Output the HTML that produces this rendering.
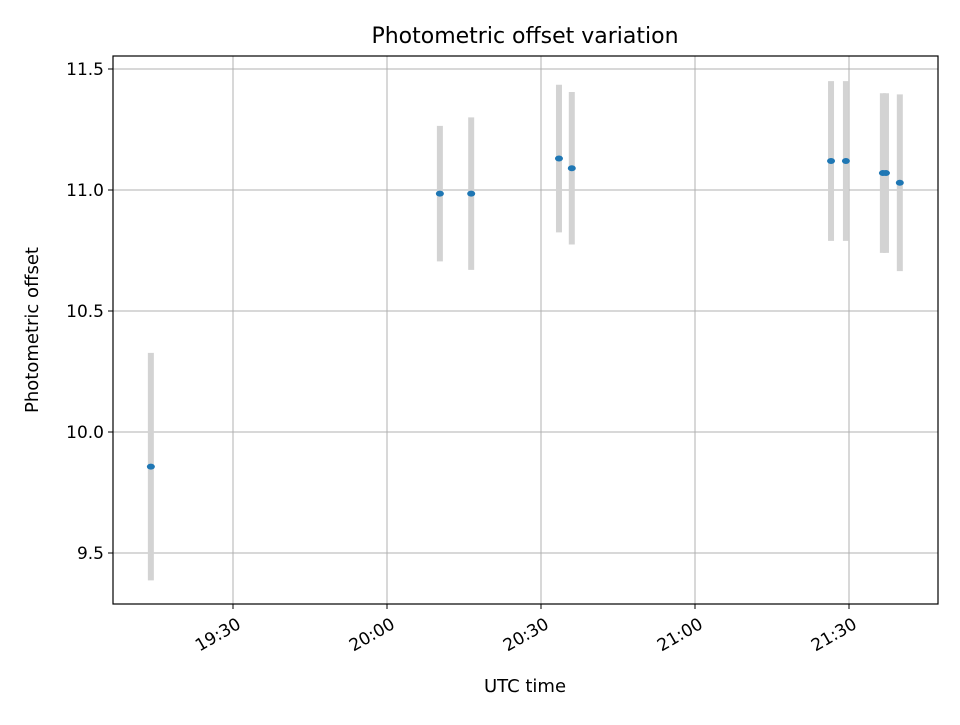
<!DOCTYPE html>
<html><head><meta charset="utf-8"><style>
body{margin:0;background:#fff;font-family:"Liberation Sans","DejaVu Sans",sans-serif;}
svg text{font-family:"DejaVu Sans","Liberation Sans",sans-serif;}
</style></head><body>
<svg id="chart" width="960" height="720" xmlns="http://www.w3.org/2000/svg">
<rect width="960" height="720" fill="#fff"/>
<g id="grid"></g>
<g id="bars"></g>
<g id="pts"></g>
<rect x="113" y="56" width="825" height="548" fill="none" stroke="#000" stroke-width="1.2"/>
<g id="ticks"></g>
<text x="525" y="43" font-size="22" text-anchor="middle">Photometric offset variation</text>
<text x="525" y="692" font-size="18" text-anchor="middle">UTC time</text>
<text transform="translate(38,330) rotate(-90)" font-size="18" text-anchor="middle">Photometric offset</text>
</svg>
<script>
const times = [19*60+14, 20*60+10.3, 20*60+16.4, 20*60+33.5, 20*60+36, 21*60+26.5, 21*60+29.4, 21*60+36.6, 21*60+37.2, 21*60+39.9];
const offsets = [9.857, 10.985, 10.985, 11.13, 11.09, 11.12, 11.12, 11.07, 11.07, 11.03];
const errors = [0.47, 0.28, 0.315, 0.305, 0.315, 0.33, 0.33, 0.33, 0.33, 0.365];
const yTicks = [9.5, 10.0, 10.5, 11.0, 11.5];
const xTickMinutes = [19*60+30, 20*60, 20*60+30, 21*60, 21*60+30];
const xTickLabels = ["19:30","20:00","20:30","21:00","21:30"];
const NS="http://www.w3.org/2000/svg";
function X(m){return 233+(m-(19*60+30))*154/30;}
function Y(v){return 432-(v-10)*242;}
function mk(tag,attrs,parent){const e=document.createElementNS(NS,tag);for(const k in attrs)e.setAttribute(k,attrs[k]);document.getElementById(parent).appendChild(e);return e;}
yTicks.forEach((t)=>{const y=Y(t);
 let g=mk('line',{x1:113,x2:938,y1:y,y2:y,stroke:'#b0b0b0','stroke-width':1},'grid');
 
 mk('line',{x1:108,x2:113,y1:y,y2:y,stroke:'#000'},'ticks');
 let tx=mk('text',{x:104,y:y+6,'font-size':17,'text-anchor':'end'},'ticks');tx.textContent=t.toFixed(1);
 
});
xTickMinutes.forEach((m,i)=>{const x=X(m);
 let g=mk('line',{x1:x,x2:x,y1:56,y2:604,stroke:'#b0b0b0','stroke-width':1},'grid');
 
 mk('line',{x1:x,x2:x,y1:604,y2:609,stroke:'#000'},'ticks');
 let tx=mk('text',{transform:`translate(${x+3},${617}) rotate(-30)`,'font-size':17,'text-anchor':'end',dy:'0.7em'},'ticks');tx.textContent=xTickLabels[i];
 
});
times.forEach((m,i)=>{const x=X(m);
 let b=mk('line',{x1:x,x2:x,y1:Y(offsets[i]+errors[i]),y2:Y(offsets[i]-errors[i]),stroke:'#d3d3d3','stroke-width':6},'bars');
 
 let p=mk('ellipse',{cx:x,cy:Y(offsets[i]),rx:4,ry:3,fill:'#1f77b4'},'pts');
 
});
</script>
</body></html>
